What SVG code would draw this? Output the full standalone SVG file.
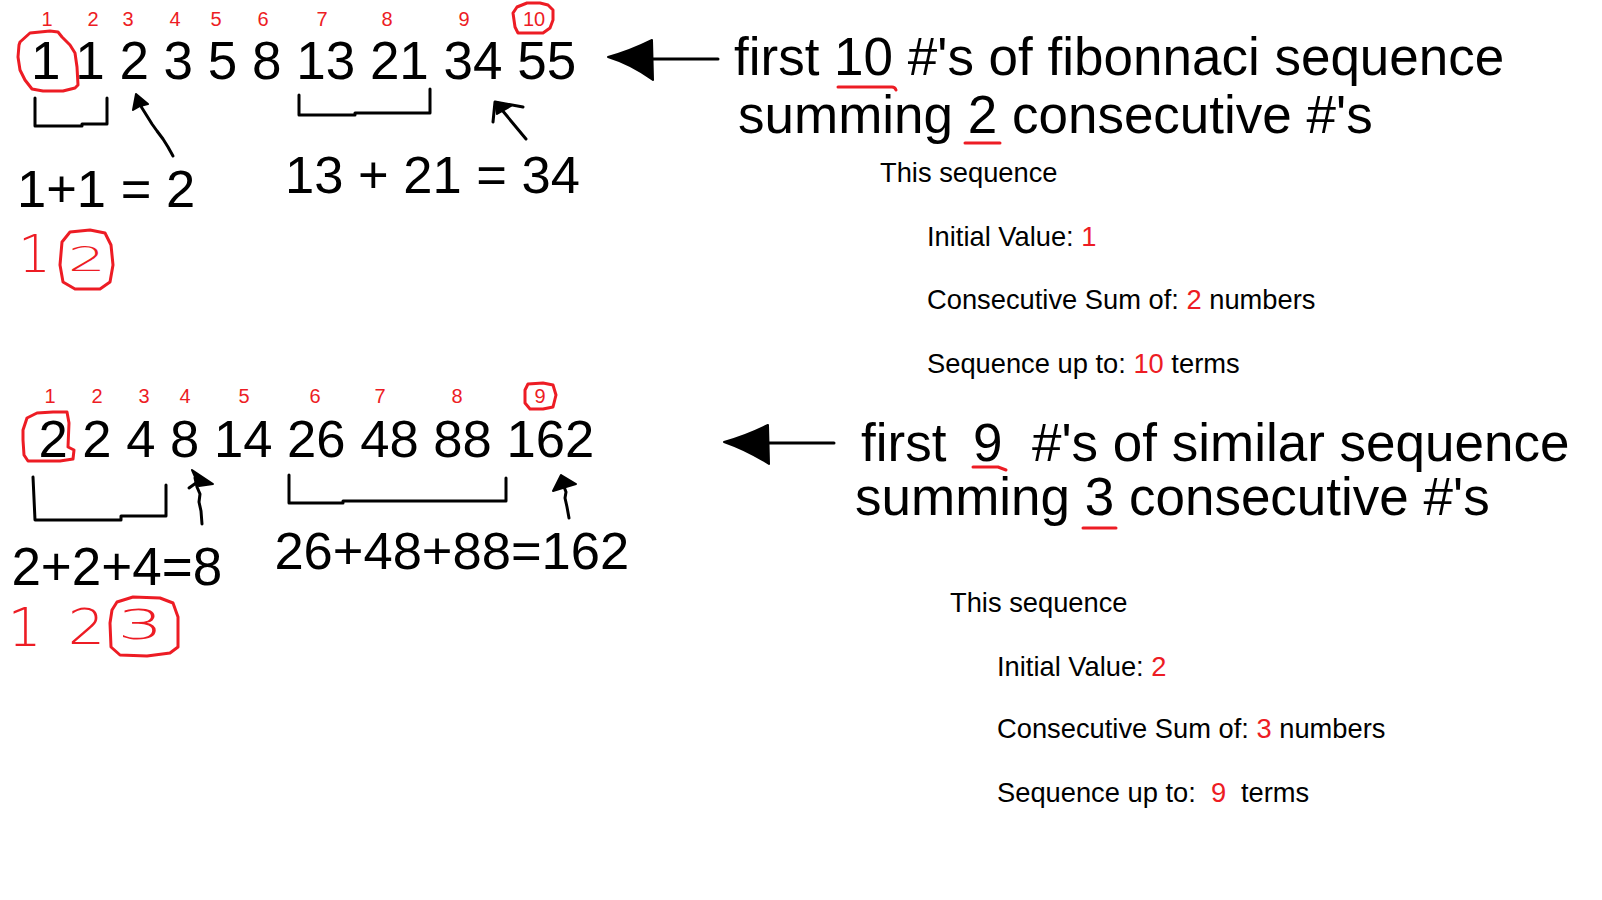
<svg xmlns="http://www.w3.org/2000/svg" width="1602" height="900" viewBox="0 0 1602 900">
<style>
text{font-family:"Liberation Sans",Arial,sans-serif}
.big{font-size:53px;fill:#000}
.lab{font-size:20px;fill:#ed1c24;text-anchor:middle}
.small{font-size:27.3px;fill:#000}
.r{fill:#ed1c24}
.hand{font-family:"DejaVu Sans",sans-serif;font-weight:200;fill:#ed1c24;text-anchor:middle}
.loop{fill:none;stroke:#ed1c24;stroke-width:3;stroke-linejoin:round;stroke-linecap:round}
.ink{fill:none;stroke:#000;stroke-width:3;stroke-linejoin:round;stroke-linecap:round}
.head{fill:#000;stroke:#000;stroke-width:2;stroke-linejoin:round}
</style>
<rect width="1602" height="900" fill="#fff"/>

<g id="seq1-labels">
<text class="lab" x="47" y="26">1</text>
<text class="lab" x="93" y="26">2</text>
<text class="lab" x="128" y="26">3</text>
<text class="lab" x="175" y="26">4</text>
<text class="lab" x="216" y="26">5</text>
<text class="lab" x="263" y="26">6</text>
<text class="lab" x="322" y="26">7</text>
<text class="lab" x="387" y="26">8</text>
<text class="lab" x="464" y="26">9</text>
<text class="lab" x="534" y="26">10</text>
<path class="loop" d="M513,13 L517,7 L527,3 L540,3 L548,5 L553,10 L553,20 L550,28 L543,33 L530,33 L518,33 L515,27 Z"/>
</g>

<g id="seq1">
<text class="big" x="31" y="79">1 1 2 3 5 8 13 21 34 55</text>
<path class="loop" d="M20,42 L30,33 L50,31 L58,32 L62,37 L70,45 L75,53 L77,67 L78,85 L75,88 L63,91 L43,91 L32,89 L25,80 L20,70 L18,57 L19,45 Z"/>
</g>

<g id="sum1-left">
<text class="big" style="font-size:52.5px" x="17" y="207">1+1 = 2</text>
<text class="hand" x="34.5" y="272" font-size="51">1</text>
<text class="hand" transform="translate(87,271) scale(1.8,1)" font-size="33">2</text>
<path class="loop" d="M62,242 L70,232 L90,230 L105,233 L111,245 L113,265 L110,282 L100,289 L75,289 L63,282 L60,265 Z"/>
</g>

<g id="sum1-right">
<text class="big" style="font-size:52.5px" x="285" y="193">13 + 21 = 34</text>
</g>

<g id="desc1-title">
<text class="big" x="734" y="75">first <tspan>10</tspan> #'s of fibonnaci sequence</text>
<text class="big" x="738" y="133">summing 2 consecutive #'s</text>
<path class="loop" d="M838,87 L892,87 Q895,87 896,90"/>
<path class="loop" d="M965,143 L1000,143"/>
</g>

<g id="desc1-details">
<text class="small" x="880" y="182">This sequence</text>
<text class="small" x="927" y="246">Initial Value: <tspan class="r">1</tspan></text>
<text class="small" x="927" y="309">Consecutive Sum of: <tspan class="r">2</tspan> numbers</text>
<text class="small" x="927" y="373">Sequence up to: <tspan class="r">10</tspan> terms</text>
</g>

<g id="seq2-labels">
<text class="lab" x="50" y="403">1</text>
<text class="lab" x="97" y="403">2</text>
<text class="lab" x="144" y="403">3</text>
<text class="lab" x="185" y="403">4</text>
<text class="lab" x="244" y="403">5</text>
<text class="lab" x="315" y="403">6</text>
<text class="lab" x="380" y="403">7</text>
<text class="lab" x="457" y="403">8</text>
<text class="lab" x="540" y="403">9</text>
<path class="loop" d="M525,390 L528,384 L543,383 L553,385 L556,395 L553,407 L543,409 L530,409 L525,403 Z"/>
</g>

<g id="seq2">
<text class="big" style="font-size:52.6px" x="38.5" y="457">2 2 4 8 14 26 48 88 162</text>
<path class="loop" d="M23,430 L27,418 L37,413 L53,412 L67,412 L69,423 L68,447 L74,450 L73,459 L60,461 L28,461 L24,455 L23,440 Z"/>
</g>

<g id="sum2-left">
<text class="big" x="11.4" y="585">2+2+4=8</text>
<text class="hand" x="24.5" y="646" font-size="53">1</text>
<text class="hand" transform="translate(86.5,644) scale(1.2,1)" font-size="49">2</text>
<text class="hand" transform="translate(140.5,639) scale(1.8,1)" font-size="40">3</text>
<path class="loop" d="M112,610 L117,602 L133,597 L160,598 L173,603 L178,617 L178,647 L170,653 L147,656 L120,655 L111,647 L110,623 Z"/>
</g>

<g id="sum2-right">
<text class="big" style="font-size:52.5px" x="274.4" y="569">26+48+88=162</text>
</g>

<g id="desc2-title">
<text class="big" y="461"><tspan x="861">first</tspan><tspan x="973">9</tspan><tspan x="1032">#'s of similar sequence</tspan></text>
<text class="big" x="855" y="515">summing 3 consecutive #'s</text>
<path class="loop" d="M973,467 L998,467 L1006,470"/>
<path class="loop" d="M1083,528 L1116,528"/>
</g>

<g id="desc2-details">
<text class="small" x="950" y="612">This sequence</text>
<text class="small" x="997" y="676">Initial Value: <tspan class="r">2</tspan></text>
<text class="small" x="997" y="738">Consecutive Sum of: <tspan class="r">3</tspan> numbers</text>
<text class="small" x="997" y="802">Sequence up to:<tspan class="r" x="1211">9</tspan><tspan x="1241">terms</tspan></text>
</g>

<g id="connectors">
<path class="ink" d="M35,98 L35,126 L82,126 L82,124 L107,124 L107,98"/>
<path class="ink" d="M299,95 L299,115 L355,115 L355,113 L430,113 L430,89"/>
<path class="ink" d="M33,477 L35,520 L121,520 L121,516 L166,516 L166,485"/>
<path class="ink" d="M289,475 L289,503 L343,503 L343,501 L506,501 L506,478"/>

<path class="ink" d="M173,156 L168,147 L163,139 L157,131 L152,124 L147,116 L142,108 L139,102"/>
<path class="head" d="M136,94 L148,104 L140,106 L133,110 Z"/>

<path class="ink" d="M526,139 L497,104"/>
<path class="ink" d="M523,107 L495,102 L493,122"/>
<path class="head" d="M495,102 L511,106 L497,114 Z"/>

<path class="ink" d="M202,524 L201,511 L199,502 L200,494 L197,487 L195,478"/>
<path class="head" d="M192,470 L213,484 L199,486 Z"/>
<path class="ink" d="M189,488 L196,483"/>

<path class="ink" d="M569,518 L567,507 L565,498 L566,492 L563,484"/>
<path class="head" d="M561,475 L576,484 L566,487 L553,491 Z"/>

<path class="ink" d="M652,59 L718,59"/>
<path class="head" d="M608,57 Q630,51 652,40 L653,80 Q631,64 608,57 Z"/>
<path class="ink" d="M768,443 L834,443"/>
<path class="head" d="M724,442 Q746,436 768,425 L769,464 Q747,450 724,442 Z"/>
</g>
</svg>
